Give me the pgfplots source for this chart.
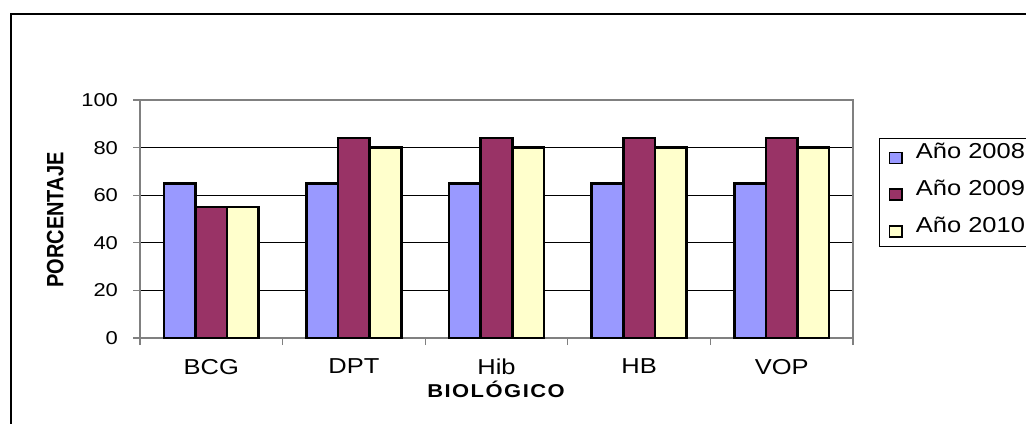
\documentclass[border=0pt]{standalone}
\usepackage{pgfplots}
\pgfplotsset{compat=1.18}
\usepackage{fontspec}
\setmainfont{Liberation Sans}[FakeStretch=1.18]
\newfontfamily\plainfont{Liberation Sans}
\newfontfamily\spacedfont{Liberation Sans}[FakeStretch=1.18, LetterSpace=8]
\definecolor{c2008}{RGB}{153,153,255}
\definecolor{c2009}{RGB}{153,51,102}
\definecolor{c2010}{RGB}{255,255,204}
\definecolor{axgray}{RGB}{128,128,128}
\pgfplotsset{sqlegend/.style={legend image code/.code={\draw[##1, line width=0.9pt] (0pt,-2.5pt) rectangle (6.3pt,3pt);}}}
\pgfplotstableread{
x y2008 y2009 y2010
0 65 55 55
1 65 84 80
2 65 84 80
3 65 84 80
4 65 84 80
}\datatable
\begin{document}
\begin{tikzpicture}
\useasboundingbox (0,0) rectangle (513pt,211.5pt);
\clip (0,0) rectangle (513pt,211.5pt);
\draw[line width=1pt,black] (5.5pt,-5pt) -- (5.5pt,204.6pt) -- (520pt,204.6pt);
\begin{axis}[
  at={(70pt,42.5pt)}, anchor=south west,
  scale only axis, width=356.5pt, height=119pt,
  ybar=0pt, bar width=15.8pt,
  ymin=0, ymax=100, ytick={0,20,...,100},
  xmin=-0.5, xmax=4.5,
  xtick={-0.5,0.5,...,4.5}, xticklabel={\relax},
  extra x ticks={0,1,2,3,4},
  extra x tick labels={BCG,DPT,Hib,HB,VOP},
  extra x tick style={major tick length=0pt, xticklabel style={yshift=-7pt}},
  xtick pos=bottom, ytick pos=left,
  tick align=outside, major tick length=3.5pt,
  tick style={axgray, line width=0.6pt},
  axis line style={axgray, line width=0.9pt},
  ymajorgrids, grid style={black, line width=0.5pt},
  /pgf/number format/assume math mode=true,
  yticklabel style={font=\fontsize{9.3}{11}\selectfont, anchor=east, xshift=-4pt},
  xticklabel style={font=\fontsize{10.8}{12}\selectfont, anchor=north},
  legend style={at={(1,1)}, anchor=north west, xshift=13pt, yshift=-19pt,
    draw=black, line width=0.5pt, inner xsep=4.5pt, inner ysep=2pt,
    row sep=5.4pt, column sep=6.5pt,
    font=\fontsize{10.8}{13}\selectfont,
    nodes={inner sep=0pt, text height=8pt, text depth=5pt, anchor=base west}},
  legend cell align=left,
]
\addplot[fill=c2008, draw=black, line width=1.3pt, sqlegend]
  table[x=x, y=y2008] {\datatable};
\addplot[fill=c2009, draw=black, line width=1.3pt, sqlegend]
  table[x=x, y=y2009] {\datatable};
\addplot[fill=c2010, draw=black, line width=1.3pt, sqlegend]
  table[x=x, y=y2010] {\datatable};
\legend{Año 2008, Año 2009, Año 2010}
\end{axis}
\node[anchor=base, font=\spacedfont\bfseries\fontsize{9.3}{11}\selectfont] at (248pt,13pt) {BIOLÓGICO};
\node[anchor=base, rotate=90] at (31.7pt,101.5pt) {\scalebox{1}[1.18]{\plainfont\bfseries\fontsize{10}{12}\selectfont PORCENTAJE}};
\end{tikzpicture}
\end{document}
